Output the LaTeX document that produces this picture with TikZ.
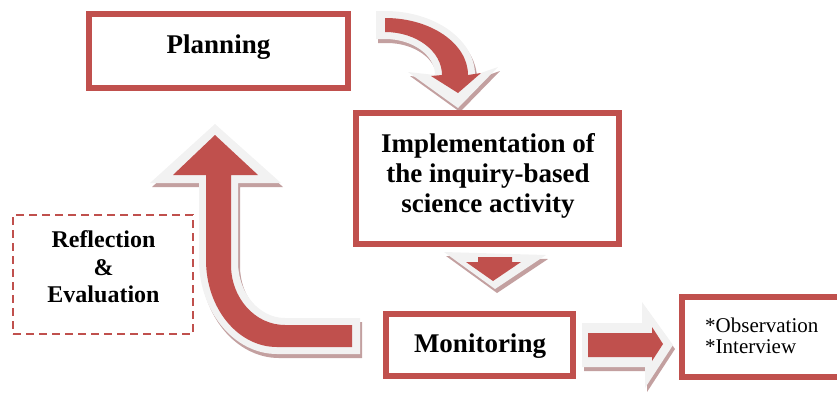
\documentclass[tikz,border=0pt]{standalone}
\usepackage{fontspec}
\setmainfont{Liberation Serif}
\definecolor{accred}{HTML}{C0504D}
\definecolor{halo}{HTML}{F2F2F2}
\definecolor{shadowc}{RGB}{195,160,160}
\begin{document}
\begin{tikzpicture}[x=1pt,y=-1pt,
  box/.style={draw=accred, line width=6pt, fill=white, inner sep=0pt},
  dbox/.style={draw=accred, line width=2.5pt, dash pattern=on 8pt off 5pt, inner sep=0pt},
  btext/.style={font=\fontsize{27}{30}\selectfont\bfseries, inner sep=0pt, align=center},
  rtext/.style={font=\fontsize{24}{27.5}\selectfont\bfseries, inner sep=0pt, align=center},
  otext/.style={font=\fontsize{21}{20.5}\selectfont, inner sep=0pt, align=left},
  halof/.style={fill=halo},
  shadf/.style={fill=shadowc, shift={(2,4)}},
  redf/.style={fill=accred}]
\useasboundingbox (0,0) rectangle (837,392);
\clip (0,0) rectangle (837,392);
% arrow paths
\def\pTopHalo{(376,11) -- (385,11) .. controls (434.7,11) and (475,39.7) .. (475,75) -- (498,67) -- (458,108) -- (408,72) -- (435,75) .. controls (435,55.1) and (412.6,39) .. (385,39) -- (376,39) -- cycle}
\def\pTopRed{(385,18) .. controls (430.8,18) and (468,43.5) .. (468,75) -- (481,73) -- (458,93) -- (431,76) -- (442,75) .. controls (442,51.3) and (416.5,32) .. (385,32) -- cycle}
\def\pUpHalo{(215,124) -- (281,183) -- (238,183) -- (238,262) .. controls (238,292.9) and (259.1,318) .. (285,318) -- (360,318) -- (360,354) -- (277,354) .. controls (234.5,354) and (199,311.9) .. (199,260) -- (199,183) -- (150,183) -- cycle}
\def\pUpRed{(215,135) -- (258,175) -- (231,175) -- (231,265) .. controls (231,298) and (255,325) .. (285,325) -- (352,325) -- (352,347) -- (277,347) .. controls (237.7,347) and (206,308) .. (206,260) -- (206,175) -- (173,175) -- cycle}
\def\pDownHalo{(444,252) -- (546,255) -- (495,289) -- cycle}
\def\pDownRed{(478,257) -- (512,257) -- (512,262) -- (521,262) -- (493,281) -- (466,262) -- (478,262) -- cycle}
\def\pRightHalo{(582,323) -- (642,323) -- (642,302) -- (673,345) -- (645,388) -- (645,367) -- (582,367) -- cycle}
\def\pRightRed{(588,333) -- (652,333) -- (652,327) -- (663,344) -- (652,361) -- (652,357) -- (588,357) -- cycle}
% shadows
\fill[shadf] \pTopHalo;
\fill[shadf] \pUpHalo;
\fill[shadf] \pDownHalo;
\fill[shadf] \pRightHalo;
% halos
\fill[halof] \pTopHalo;
\fill[halof] \pUpHalo;
\fill[halof] \pDownHalo;
\fill[halof] \pRightHalo;
% red arrows
\fill[redf] \pTopRed;
\fill[redf] \pUpRed;
\fill[redf] \pDownRed;
\fill[redf] \pRightRed;
% boxes
\node[box, minimum width=259pt, minimum height=74pt] (plan) at (218.5,51) {};
\node[box, minimum width=263pt, minimum height=131pt] (impl) at (487.5,178.5) {};
\node[box, minimum width=187pt, minimum height=62pt] (mon) at (479.5,345) {};
\node[box, minimum width=220pt, minimum height=80pt] (obs) at (792,337) {};
\node[dbox, minimum width=180pt, minimum height=119pt] (refl) at (103,274.5) {};
% texts
\node[btext, anchor=base] (plant) at (218.5,53) {Planning};
\node[btext] (implt) at (488,176) {Implementation of\\the inquiry-based\\science activity};
\node[btext, anchor=base] (mont) at (480,352) {Monitoring};
\node[rtext] (reflt) at (103.5,267) {Reflection\\\&\\Evaluation};
\node[otext, anchor=west] (obst) at (705,336) {*Observation\\*Interview};
\end{tikzpicture}
\end{document}
